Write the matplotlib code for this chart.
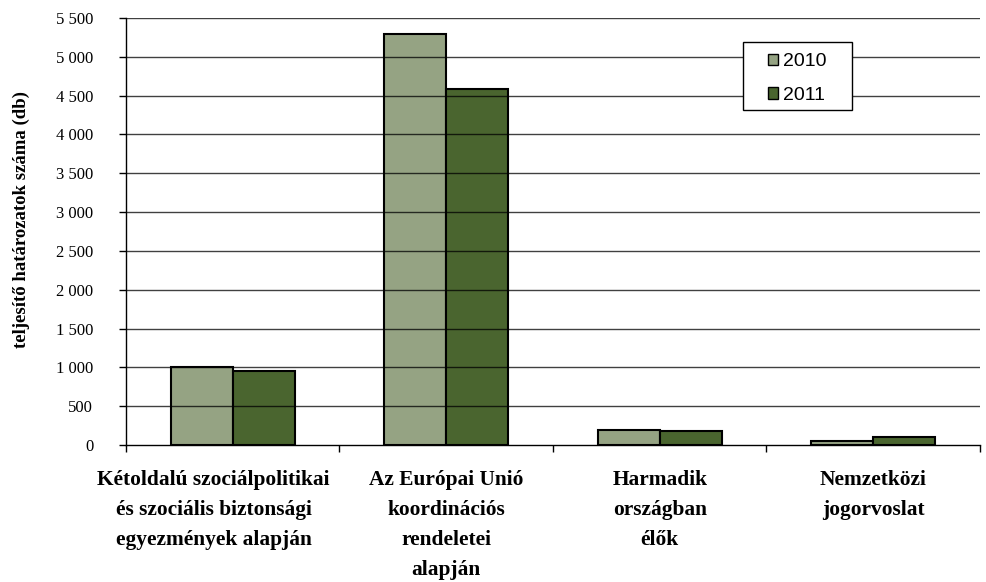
import numpy as np
import matplotlib.pyplot as plt
from matplotlib.patches import Rectangle
from matplotlib.transforms import ScaledTranslation

# adatok
categories = ['Kétoldalú szociálpolitikai\nés szociális biztonsági\negyezmények alapján',
              'Az Európai Unió\nkoordinációs\nrendeletei\nalapján',
              'Harmadik\nországban\nélők',
              'Nemzetközi\njogorvoslat']
vals_2010 = [1010, 5300, 190, 55]
vals_2011 = [955, 4580, 185, 105]
years = ['2010', '2011']
y_ticks = [0, 500, 1000, 1500, 2000, 2500, 3000, 3500, 4000, 4500, 5000, 5500]

c2010 = '#95a383'
c2011 = '#4a652f'

W, H = 987, 582
fig = plt.figure(figsize=(W / 100, H / 100), dpi=100)
ax = fig.add_axes([126 / W, 1 - 445 / H, 854 / W, 427 / H])

x = np.arange(len(categories))
w = 0.29
ax.bar(x - w / 2, vals_2010, w, color=c2010, edgecolor='black', linewidth=1.5, label=years[0], zorder=2)
ax.bar(x + w / 2, vals_2011, w, color=c2011, edgecolor='black', linewidth=1.5, label=years[1], zorder=2)

ax.set_xlim(-0.5, len(categories) - 0.5)
ax.set_ylim(0, 5500)
ax.set_yticks(y_ticks)
ax.set_yticklabels([f'{v:,}'.replace(',', ' ') for v in y_ticks],
                   family='Liberation Serif', fontsize=12)
for v in y_ticks[1:]:
    ax.axhline(v, color='black', linewidth=1, alpha=0.75, zorder=3)

# kategóriahatárok mint fő tickek, címkék középen
ax.set_xticks(np.arange(len(categories) + 1) - 0.5)
ax.set_xticklabels([])
ax.set_xticks(x, minor=True)
ax.set_xticklabels(categories, minor=True, family='Liberation Serif', fontweight='bold',
                   fontsize=15.4, linespacing=1.66)
ax.tick_params(axis='x', which='minor', length=0, pad=18)
ax.tick_params(axis='x', which='major', length=5, direction='out', width=1)
ax.tick_params(axis='y', length=5, direction='out', width=1, pad=18.6)

# az első címke kicsit balra tolva, mint az eredetin
lbl = ax.get_xticklabels(minor=True)[0]
lbl.set_transform(lbl.get_transform() + ScaledTranslation(-0.19, 0, fig.dpi_scale_trans))

for s in ['top', 'right']:
    ax.spines[s].set_visible(False)
ax.spines['left'].set_linewidth(1)
ax.spines['bottom'].set_linewidth(1)

ax.set_ylabel('teljesítő határozatok száma (db)', family='Liberation Serif', fontweight='bold',
              fontsize=13.5)
ax.yaxis.set_label_coords((30 - 126) / 854, 0.527)

# jelmagyarázat keretben
box = (743, 42, 852, 110)
ax.add_patch(Rectangle((box[0] / W, 1 - box[3] / H), (box[2] - box[0]) / W,
                       (box[3] - box[1]) / H, transform=fig.transFigure, clip_on=False,
                       facecolor='white', edgecolor='black', linewidth=1, zorder=4))
leg = ax.legend(loc='center', bbox_to_anchor=((box[0] + box[2]) / 2 / W, 1 - ((box[1] + box[3]) / 2 + 2.5) / H),
                bbox_transform=fig.transFigure, prop={'family': 'Liberation Sans', 'size': 14},
                frameon=False, handlelength=0.52, handleheight=0.52,
                handletextpad=0.26, borderpad=0.2, labelspacing=0.85)
leg.set_zorder(5)
for h in leg.legend_handles:
    h.set_linewidth(1)

fig.savefig('out.png', dpi=100)
